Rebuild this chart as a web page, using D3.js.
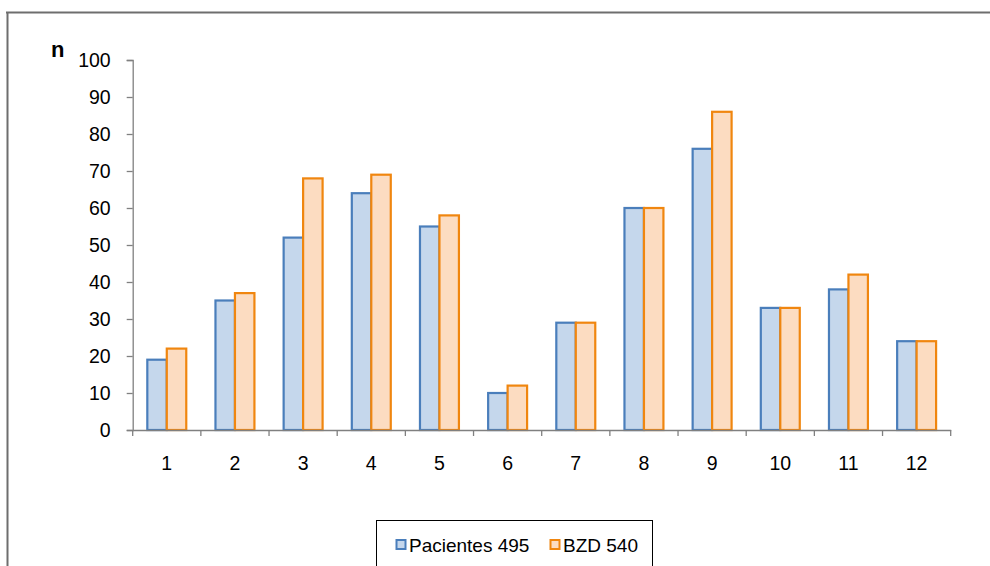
<!DOCTYPE html>
<html><head><meta charset="utf-8">
<script src="https://cdn.jsdelivr.net/npm/d3@7"></script>
<style>body{margin:0;background:#fff}svg{display:block;font-family:"Liberation Sans",Arial,sans-serif}</style>
</head><body><svg id="c" width="990" height="566"></svg>
<script>
const categories = ["1","2","3","4","5","6","7","8","9","10","11","12"];
const pacientes = [19,35,52,64,55,10,29,60,76,33,38,24];
const bzd = [22,37,68,69,58,12,29,60,86,33,42,24];
const seriesNames = ["Pacientes 495","BZD 540"];
const yTicks = [0,10,20,30,40,50,60,70,80,90,100];

const svg = d3.select("#c");
// outer frame (top and left edges visible)
svg.append("line").attr("x1",6).attr("x2",990).attr("y1",12.5).attr("y2",12.5)
  .attr("stroke","#6e6e6e").attr("stroke-width",2);
svg.append("line").attr("x1",7.5).attr("x2",7.5).attr("y1",12).attr("y2",566)
  .attr("stroke","#6e6e6e").attr("stroke-width",2);

const x = d3.scaleBand().domain(categories).range([132.7,950.7]).paddingInner(0).paddingOuter(0);
const y = d3.scaleLinear().domain([0,100]).range([430,60]);
const inner = d3.scaleBand().domain([0,1]).range([0,x.bandwidth()]).paddingInner(0).paddingOuter(0.75);

const colors = [{fill:"#c5d7ec",stroke:"#4a7ebb"},{fill:"#fcdcc1",stroke:"#f0860f"}];
const data = [pacientes,bzd];

data.forEach((vals,si)=>{
  svg.append("g").selectAll("rect").data(vals).join("rect")
    .attr("x",(d,i)=>x(categories[i])+inner(si))
    .attr("y",d=>y(d))
    .attr("width",inner.bandwidth())
    .attr("height",d=>y(0)-y(d))
    .attr("fill",colors[si].fill).attr("stroke",colors[si].stroke).attr("stroke-width",2.2);
});

const axisColor="#808080";
const ya = svg.append("g").attr("transform","translate(132.7,0)")
  .call(d3.axisLeft(y).tickValues(yTicks).tickSize(6).tickPadding(16));
ya.attr("font-size",19.5).attr("font-family","Liberation Sans, Arial, sans-serif");
ya.select(".domain").attr("stroke",axisColor).attr("stroke-width",1.3);
ya.selectAll(".tick line").attr("stroke",axisColor).attr("stroke-width",1.3);
ya.selectAll("text").attr("fill","#000").attr("dy","0.35em");

const xa = svg.append("g").attr("transform","translate(0,430)")
  .call(d3.axisBottom(x).tickSize(0).tickPadding(26).tickSizeOuter(0));
xa.attr("font-size",19.5).attr("font-family","Liberation Sans, Arial, sans-serif");
xa.select(".domain").attr("stroke",axisColor).attr("stroke-width",1.3);
xa.selectAll("text").attr("fill","#000");
// category boundary ticks
const bounds = categories.map(c=>x(c)).concat([x.range()[1]]);
svg.append("g").selectAll("line").data(bounds).join("line")
  .attr("x1",d=>d).attr("x2",d=>d).attr("y1",430).attr("y2",436)
  .attr("stroke",axisColor).attr("stroke-width",1.3);

svg.append("text").attr("x",51).attr("y",57).attr("font-size",22).attr("font-weight","bold").text("n");

// legend
const lg = svg.append("g").attr("font-size",19);
lg.append("rect").attr("x",376.5).attr("y",520.5).attr("width",276).attr("height",60)
  .attr("fill","#fff").attr("stroke","#000").attr("stroke-width",1);
const items = [{x:396.5,tx:409},{x:550.5,tx:563}];
items.forEach((it,i)=>{
  lg.append("rect").attr("x",it.x).attr("y",540).attr("width",9).attr("height",9)
    .attr("fill",colors[i].fill).attr("stroke",colors[i].stroke).attr("stroke-width",2);
  lg.append("text").attr("x",it.tx).attr("y",552).text(seriesNames[i]);
});
</script></body></html>
